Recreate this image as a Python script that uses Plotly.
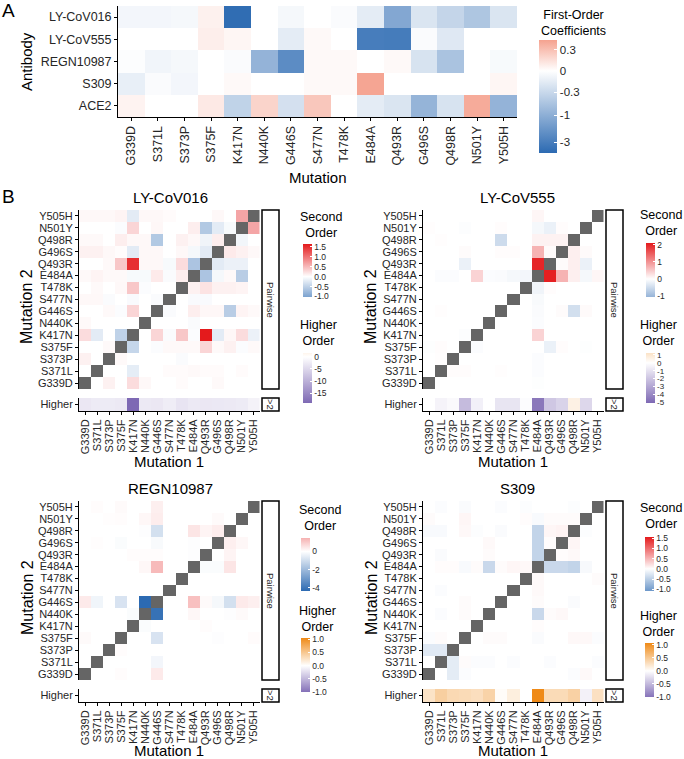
import numpy as np
import plotly.graph_objects as go

W, H = 684, 759

mutations = ["G339D", "S371L", "S373P", "S375F", "K417N", "N440K", "G446S", "S477N",
             "T478K", "E484A", "Q493R", "G496S", "Q498R", "N501Y", "Y505H"]
antibodies = ["LY-CoV016", "LY-CoV555", "REGN10987", "S309", "ACE2"]

# ---------------- Panel A: first-order coefficients ----------------
fo_ly016 = [-0.05, -0.05, -0.04, 0.05, -4.2, 0, -0.04, 0, -0.02, -0.12, -1.2, -0.18, -0.34, -0.55, -0.18]
fo_ly555 = [0, 0, 0, 0.06, 0.03, 0, -0.12, 0.02, 0, -3.0, -3.1, -0.02, -0.15, 0, 0]
fo_regn = [-0.01, -0.06, -0.04, 0, -0.02, -0.9, -2.2, 0.02, 0.02, 0, 0.02, -0.2, -0.59, 0, -0.03]
fo_s309 = [-0.1, -0.02, -0.05, 0, 0.02, 0, 0, 0.02, 0.02, 0.5, 0, 0, 0, 0, 0.03]
fo_ace2 = [0.04, 0, 0, 0.08, -0.37, 0.18, -0.22, 0.25, 0, -0.12, -0.18, -0.88, -0.2, 0.45, -0.9]
fo_range = [-4.45, 0.53]
fo_ticks = [0.3, 0, -0.3, -1, -3]
fo_ticktext = ["0.3", "0", "-0.3", "-1", "-3"]
A_C = 0.28  # pseudo-log transform constant of the legend scale

# ---------------- Panel B: second-order (rows top->bottom: Y505H ... G339D) ----------------
so_ly016 = [
    [0.05, 0.05, 0.05, 0.08, -0.22, 0.05, 0.05, 0.03, 0, 0, 0, 0.05, 0, 0.65, None],
    [0, 0, 0, -0.03, 0.3, 0, 0.06, 0, 0, 0.12, -0.6, -0.22, -0.06, None, 0.65],
    [0.04, 0.04, 0, 0.12, 0.05, 0.05, -0.6, 0, 0.1, 0.05, -0.12, 0.12, None, -0.1, 0],
    [0.1, 0.1, 0.05, 0.02, -0.22, 0.05, 0.05, 0, 0.05, -0.08, -0.22, None, 0.15, 0.1, 0.05],
    [0, 0, 0.04, 0.4, 1.5, 0.05, 0.05, -0.06, 0.25, -0.65, None, -0.22, -0.15, -0.15, 0],
    [0.04, 0.08, 0.04, 0.04, -0.06, -0.06, 0.15, -0.04, 0.12, None, -0.65, -0.08, 0.04, -0.55, 0],
    [0, 0.04, 0, 0.05, 0.4, -0.03, 0, 0, None, 0.1, 0.2, 0.1, 0.1, 0.08, 0],
    [0.05, 0.05, -0.04, 0, -0.05, 0, -0.04, None, 0, -0.05, -0.05, 0, 0, 0, 0],
    [0, 0, 0.04, -0.03, 0.3, 0, None, -0.04, 0, 0.12, 0.06, 0.06, -0.55, 0.08, 0.04],
    [0.04, 0, 0, 0, 0, None, 0, 0, 0, -0.04, 0, 0, 0, 0, 0],
    [0.25, -0.22, 0, -0.5, None, 0, 0.3, -0.04, 0.4, -0.03, 1.65, -0.22, 0.06, 0.25, -0.15],
    [0, 0, 0.04, None, -0.45, 0, -0.03, 0.04, 0.04, 0.04, 0.3, 0.04, 0.1, -0.03, 0.04],
    [0.1, 0, None, 0.04, 0, 0, 0, 0, -0.04, 0, 0, 0, 0, 0, 0],
    [0, None, 0, 0, -0.2, 0, 0, 0.03, 0.03, 0.04, 0.03, 0.03, 0, 0.03, 0],
    [None, 0, 0.1, 0, 0.25, 0.05, 0, 0, 0.03, 0, 0, 0.04, 0, 0, 0],
]
so_ly555 = [
    [0, 0, 0, 0, 0, 0, 0, 0, 0, 0.08, 0, 0, 0, 0, None],
    [0.02, 0, 0, -0.03, 0, 0, 0.03, 0, 0, -0.1, -0.2, 0.03, 0, None, 0],
    [0, 0.02, 0, 0, 0, 0, -0.5, 0, 0, 0.12, 0.12, 0.12, None, 0, 0],
    [0, 0, 0, 0.04, 0, 0, 0.03, 0.03, 0, 0.7, 0.05, None, 0.15, 0.05, 0],
    [0, 0, 0, -0.2, 0, 0, 0, 0, 0, 2.0, None, 0.04, 0.15, -0.2, 0],
    [0, -0.04, -0.04, 0, 0.4, -0.04, -0.05, -0.1, -0.12, None, 2.05, 0.7, 0.15, -0.1, 0.08],
    [0, 0, 0, 0, 0, 0, 0, 0, None, -0.15, 0.03, 0, 0, 0, 0],
    [0, 0, 0, 0, 0, 0, 0, None, 0, -0.07, 0, 0, 0, 0, 0],
    [0, 0.02, 0, 0, 0, 0, None, 0, 0, -0.05, 0, 0.04, -0.45, 0.05, 0],
    [0, 0, 0, 0, 0, None, 0, 0, 0, -0.04, 0, 0, 0, 0, 0],
    [0, 0, 0, -0.03, None, 0, 0, 0, 0, 0.4, 0, 0, 0, 0, 0],
    [-0.02, 0.03, 0, None, -0.04, 0, 0, 0, 0, 0, -0.2, 0.03, 0, -0.02, 0],
    [0, 0.02, None, 0, 0, 0, 0, 0, 0, -0.04, 0, 0, 0, 0, 0],
    [0, None, 0.03, 0.03, 0, 0, 0.02, 0, 0, -0.04, 0, 0, 0, 0, 0],
    [None, 0, 0, 0, 0, 0, 0, 0, 0, -0.02, 0, 0, 0, 0, 0],
]
so_regn = [
    [0, 0.05, 0, 0.1, 0, 0, 0.3, 0, 0, 0, 0, 0, 0, 0, None],
    [0, 0, 0.03, 0.05, 0, 0.15, 0.35, 0, 0, 0, 0, 0.1, 0, None, 0],
    [0, 0, 0, 0, 0, -0.05, -0.9, 0, 0, 0.5, 0.2, 0.35, None, 0, 0],
    [0, 0.03, 0, -0.1, 0, 0, -0.15, 0, 0, -0.05, 0, None, 0.3, 0.15, 0],
    [0, 0, 0, 0, 0.05, 0.05, 0.05, 0, 0, -0.05, None, 0, 0.2, 0, 0],
    [0, 0, 0, 0, 0, 0.15, 1.3, 0, 0, None, -0.1, -0.1, 0.5, 0, 0],
    [0, 0, 0, 0, 0, 0, 0, 0, None, 0, 0, 0, 0, 0, 0],
    [0, 0, 0, 0, 0, 0, 0, None, 0, 0, 0, 0, 0, 0, 0],
    [0.4, -0.3, 0, -0.8, 0, -4.33, None, 0, 0, 1.2, 0.1, -0.2, -0.9, 0.4, 0.3],
    [0, 0, 0, 0, -0.1, None, -4.1, 0, 0, 0.15, 0, 0, -0.05, 0.1, 0],
    [0, 0, 0, 0, None, -0.1, 0, 0, 0, 0, 0.05, 0, 0, 0, 0],
    [0.1, 0, 0, None, 0, 0, -0.8, 0, 0, 0, 0, -0.05, 0, 0, 0.08],
    [0, 0, None, 0.05, 0, 0, 0, 0, 0, 0, 0, 0, 0, 0, 0],
    [0, None, 0, 0, 0, 0, -0.25, 0, 0, 0, 0, 0, 0, 0, 0],
    [None, 0, 0, 0.05, 0, 0, 0.4, 0, 0, 0, 0, 0, 0, 0, 0],
]
so_s309 = [
    [0, -0.03, 0, -0.04, 0, 0, -0.03, 0, -0.02, 0, 0, 0, -0.02, 0, None],
    [0.03, 0, 0, 0.06, 0, 0, 0, 0, 0.02, -0.05, 0.03, 0.03, 0.03, None, 0],
    [-0.05, -0.05, 0, 0.05, -0.02, 0, -0.04, 0, 0, -0.45, 0.06, 0.08, None, -0.02, 0],
    [0, 0, 0, 0, 0, 0.04, 0, 0, 0, -0.45, 0.02, None, 0.06, 0, 0],
    [0, -0.04, 0, 0, 0, 0.03, 0, 0, 0, -0.45, None, 0.02, 0.04, 0, 0],
    [0, 0.02, 0.02, -0.05, 0.03, -0.4, 0.03, 0.06, 0.05, None, -0.4, -0.4, -0.45, -0.06, 0],
    [0, 0, 0, 0, 0, 0, 0, 0, None, 0.04, 0, 0, 0, 0, 0.03],
    [0, -0.03, 0, 0, 0, 0, 0, None, 0, 0.04, 0, 0, 0, 0, 0],
    [0, 0, 0, 0.03, 0, 0, None, 0, 0, 0.03, 0, 0, -0.04, 0, 0],
    [0, -0.03, 0, 0.03, 0, None, 0, 0, 0, -0.4, 0.03, 0.05, 0, 0, 0],
    [0, 0, 0, 0, None, 0, 0, 0, 0, 0.02, 0, 0, 0, 0, 0],
    [-0.03, 0.03, 0, None, 0, 0.03, 0.03, 0, 0, -0.04, 0, 0, 0.05, 0.05, -0.03],
    [-0.23, -0.23, None, 0, 0, 0, 0, 0, 0, 0, 0, 0, 0, 0, 0],
    [0, None, -0.2, 0.03, -0.03, -0.03, 0, -0.03, 0, 0, -0.03, 0, 0, 0, -0.03],
    [None, 0, -0.2, -0.03, 0, 0, 0, 0, 0, 0, 0, 0, -0.03, 0.04, 0],
]

# Higher-order coefficients (one row per antibody)
ho_ly016 = [-3.0, -2.6, -2.6, -2.8, -19.1, -2.8, -3.0, -2.3, -3.4, -2.8, -3.0, -2.9, -2.8, -2.6, -1.7]
ho_ly555 = [0, -0.4, -0.2, -2.3, -0.5, 0, -0.9, -0.9, -0.1, -4.6, -1.9, -1.5, 0.6, -1.35, 0]
ho_regn = [0, 0, 0, 0, 0, 0, 0, 0, 0, 0, 0, 0, 0, 0, 0]
ho_s309 = [0.26, 0.44, 0.35, 0.33, 0.3, 0.4, 0.03, 0.15, 0.0, 1.07, 0.33, 0.33, 0.42, -0.1, 0.28]

# Legend ranges and ticks
so_ranges = [[-1.03, 1.65], [-1.05, 2.1], [-4.33, 1.48], [-1.08, 1.55]]
ho_ranges = [[-19.1, 1.6], [-5.1, 1.25], [-1.0, 1.05], [-1.0, 1.07]]
so_ticks = [[1.5, 1.0, 0.5, 0.0, -0.5, -1.0], [2, 1, 0, -1], [0, -2, -4], [1.5, 1.0, 0.5, 0.0, -0.5, -1.0]]
so_ticktext = [["1.5", "1.0", "0.5", "0.0", "-0.5", "-1.0"], ["2", "1", "0", "-1"], ["0", "-2", "-4"],
               ["1.5", "1.0", "0.5", "0.0", "-0.5", "-1.0"]]
ho_ticks = [[0, -5, -10, -15], [1, 0, -1, -2, -3, -4, -5], [1.0, 0.5, 0.0, -0.5, -1.0], [1.0, 0.5, 0.0, -0.5, -1.0]]
ho_ticktext = [["0", "-5", "-10", "-15"], ["1", "0", "-1", "-2", "-3", "-4", "-5"],
               ["1.0", "0.5", "0.0", "-0.5", "-1.0"], ["1.0", "0.5", "0.0", "-0.5", "-1.0"]]
panel_names = ["LY-CoV016", "LY-CoV555", "REGN10987", "S309"]
so_list = [so_ly016, so_ly555, so_regn, so_s309]
ho_list = [ho_ly016, ho_ly555, ho_regn, ho_s309]

# ---------------- styling ----------------
FONT = "Liberation Sans, Arial, sans-serif"
BLUE = "#2C6AB2"
RED = "#E41A1C"
PURPLE = "#7E69B4"
ORANGE = "#EF8A17"
GREY = "#656565"
TXT = "#262626"


def fx(p):
    return p / W


def fy(p):
    return 1 - p / H


def hex2rgb(h):
    h = h.lstrip("#")
    return tuple(int(h[i:i + 2], 16) for i in (0, 2, 4))


def mix(c, f):
    r, g, b = hex2rgb(c)
    return "rgb(%d,%d,%d)" % (round(255 + (r - 255) * f), round(255 + (g - 255) * f), round(255 + (b - 255) * f))


def div_scale(lo, hi, neg, pos):
    m = max(abs(lo), abs(hi))
    p0 = (0 - lo) / (hi - lo)
    return [[0, mix(neg, abs(lo) / m)], [p0, "rgb(255,255,255)"], [1, mix(pos, abs(hi) / m)]]


def tA(v):
    v = np.asarray(v, dtype=float)
    return np.sign(v) * np.log1p(np.abs(v) / A_C)


def axis(domain, **kw):
    d = dict(domain=domain, showgrid=False, zeroline=False, showline=False, ticks="",
             showticklabels=False, fixedrange=True)
    d.update(kw)
    return d


def note(text, x, y, size, angle=0, color="black", xanchor="center"):
    return dict(text=text, x=fx(x), y=fy(y), xref="paper", yref="paper", textangle=angle,
                xanchor=xanchor, yanchor="middle", showarrow=False, borderpad=0,
                font=dict(size=size, color=color, family=FONT))


fig = go.Figure()
layout = {}
annotations = []
shapes = []

# ---------------- Panel A ----------------
fo_rows = [fo_ly016, fo_ly555, fo_regn, fo_s309, fo_ace2]
zA = [list(tA(r)) for r in fo_rows]
tlo, thi = float(tA(fo_range[0])), float(tA(fo_range[1]))
pA0 = (0 - tlo) / (thi - tlo)
fig.add_trace(go.Heatmap(
    z=zA, x=mutations, y=antibodies, xaxis="x", yaxis="y",
    zmin=tlo, zmax=thi,
    colorscale=[[0, BLUE], [pA0, "#FFFFFF"], [1, "#F5A28F"]],
    hoverinfo="skip",
    colorbar=dict(x=fx(539), xanchor="left", xpad=0, y=fy(40), yanchor="top", ypad=0,
                  len=(153 - 40) / H, lenmode="fraction", thickness=18, outlinewidth=0,
                  tickvals=list(tA(fo_ticks)), ticktext=fo_ticktext, ticks="inside",
                  tickcolor="white", ticklen=3, tickfont=dict(size=11.5, color=TXT, family=FONT)),
))
tick_common = dict(ticks="outside", ticklen=3, tickwidth=1, tickcolor="black",
                   showline=True, linecolor="black", linewidth=1)
layout["xaxis"] = axis([fx(118), fx(517)], anchor="y", showticklabels=True, tickangle=-90,
                       tickfont=dict(size=12.5, color=TXT), categoryorder="array",
                       categoryarray=mutations, tickmode="array", tickvals=mutations,
                       ticktext=mutations, **tick_common)
layout["yaxis"] = axis([fy(117), fy(6)], anchor="x", showticklabels=True,
                       tickfont=dict(size=12.5, color=TXT), categoryorder="array",
                       categoryarray=antibodies[::-1], tickmode="array", tickvals=antibodies,
                       ticktext=antibodies, **tick_common)
annotations += [
    note("A", 1, 11, 19, xanchor="left"),
    note("Antibody", 26, 62, 15, angle=-90),
    note("Mutation", 318, 177, 15),
    note("First-Order<br>Coefficients", 540, 23, 12.5, xanchor="left"),
    note("B", 1, 196, 19, xanchor="left"),
]

# ---------------- Panel B ----------------
offsets = [(0, 0), (344, 0), (0, 291), (344, 291)]
legend_pos = [  # (cb x, so top, so bottom, ho top, ho bottom, title x, second y, higher y)
    (303, 244, 297, 353, 403, 321, 225, 333),
    (646, 243, 297, 353, 403, 661, 223, 333),
    (301, 538, 591, 638, 692, 320, 518, 619),
    (645, 537, 591, 643, 697, 661, 516, 624),
]
diag = [[1 if (14 - i) == j else None for j in range(15)] for i in range(15)]
rows_top_down = mutations[::-1]

for k in range(4):
    ox, oy = offsets[k]
    ax_m = 2 + 2 * k
    ax_h = 3 + 2 * k
    xl, xr = 79 + ox, 259.5 + ox
    mt, mb = 210 + oy, 389 + oy
    ht, hb = 398 + oy, 411 + oy
    cbx, s_t, s_b, h_t, h_b, tx, sy, hy = legend_pos[k]
    lo, hi = so_ranges[k]
    hlo, hhi = ho_ranges[k]
    cb_font = dict(size=8 if len(ho_ticks[k]) > 5 else 8.5, color=TXT, family=FONT)

    fig.add_trace(go.Heatmap(
        z=so_list[k], x=mutations, y=rows_top_down, xaxis="x%d" % ax_m, yaxis="y%d" % ax_m,
        zmin=lo, zmax=hi, colorscale=div_scale(lo, hi, BLUE, RED), hoverinfo="skip",
        colorbar=dict(x=fx(cbx), xanchor="left", xpad=0, y=fy(s_t), yanchor="top", ypad=0,
                      len=(s_b - s_t) / H, lenmode="fraction", thickness=9, outlinewidth=0,
                      tickvals=so_ticks[k], ticktext=so_ticktext[k], ticks="inside",
                      tickcolor="white", ticklen=2, tickfont=dict(size=8.5, color=TXT, family=FONT)),
    ))
    fig.add_trace(go.Heatmap(
        z=diag, x=mutations, y=rows_top_down, xaxis="x%d" % ax_m, yaxis="y%d" % ax_m,
        colorscale=[[0, GREY], [1, GREY]], showscale=False, hoverinfo="skip",
    ))
    fig.add_trace(go.Heatmap(
        z=[ho_list[k]], x=mutations, y=["Higher"], xaxis="x%d" % ax_h, yaxis="y%d" % ax_h,
        zmin=hlo, zmax=hhi, colorscale=div_scale(hlo, hhi, PURPLE, ORANGE), hoverinfo="skip",
        colorbar=dict(x=fx(cbx), xanchor="left", xpad=0, y=fy(h_t), yanchor="top", ypad=0,
                      len=(h_b - h_t) / H, lenmode="fraction", thickness=9, outlinewidth=0,
                      tickvals=ho_ticks[k], ticktext=ho_ticktext[k], ticks="inside",
                      tickcolor="white", ticklen=2, tickfont=cb_font),
    ))

    layout["xaxis%d" % ax_m] = axis([fx(xl), fx(xr)], anchor="y%d" % ax_m, categoryorder="array",
                                     categoryarray=mutations)
    layout["yaxis%d" % ax_m] = axis([fy(mb), fy(mt)], anchor="x%d" % ax_m, showticklabels=True,
                                     tickfont=dict(size=11, color=TXT), categoryorder="array",
                                     categoryarray=mutations, tickmode="array", tickvals=mutations,
                                     ticktext=mutations, **tick_common)
    layout["xaxis%d" % ax_h] = axis([fx(xl), fx(xr)], anchor="y%d" % ax_h, showticklabels=True,
                                     tickangle=-90, tickfont=dict(size=11, color=TXT),
                                     categoryorder="array", categoryarray=mutations,
                                     tickmode="array", tickvals=mutations, ticktext=mutations,
                                     **tick_common)
    layout["yaxis%d" % ax_h] = axis([fy(hb), fy(ht)], anchor="x%d" % ax_h, showticklabels=True,
                                     tickfont=dict(size=11, color=TXT), **tick_common)

    # facet strips
    sx0, sx1 = 262 + ox, 279 + ox
    shapes.append(dict(type="rect", xref="paper", yref="paper", x0=fx(sx0), x1=fx(sx1),
                       y0=fy(mb), y1=fy(mt), line=dict(color="black", width=1.5), fillcolor="white"))
    shapes.append(dict(type="rect", xref="paper", yref="paper", x0=fx(sx0), x1=fx(sx1),
                       y0=fy(hb), y1=fy(ht), line=dict(color="black", width=1.5), fillcolor="white"))
    annotations += [
        note("Pairwise", (sx0 + sx1) / 2, (mt + mb) / 2, 9.5, angle=90, color=TXT),
        note("&gt;2", (sx0 + sx1) / 2, (ht + hb) / 2, 9.5, angle=90, color=TXT),
        note(panel_names[k], 170 + ox + (3 if k % 2 else 0), 197 + oy, 15),
        note("Mutation 2", 27 + ox, 307 + oy, 16, angle=-90),
        note("Mutation 1", 169 + ox, 461 + oy if oy == 0 else 750, 15),
        note("Second<br>Order", tx, sy, 12.5),
        note("Higher<br>Order", tx - 3, hy, 12.5),
    ]

fig.update_layout(
    width=W, height=H, margin=dict(l=0, r=0, t=0, b=0),
    paper_bgcolor="white", plot_bgcolor="white", showlegend=False,
    font=dict(family=FONT, color=TXT),
    annotations=annotations, shapes=shapes, **layout,
)
fig.write_html("out.html", config={"displayModeBar": False},
               post_script="document.body.style.margin='0px';document.body.style.padding='0px';")
